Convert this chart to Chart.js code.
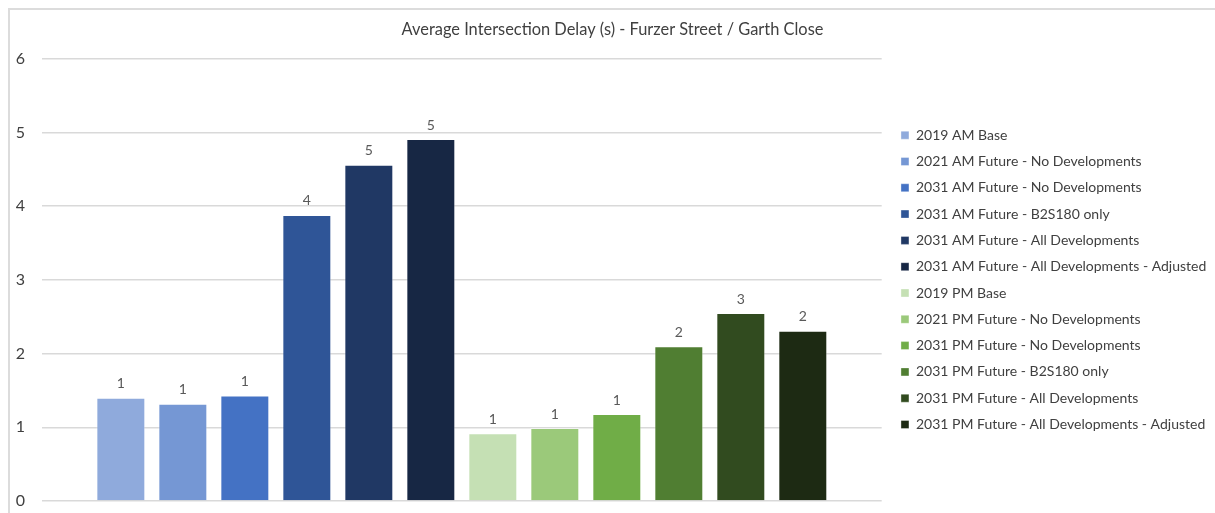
<!DOCTYPE html>
<html>
<head>
<meta charset="utf-8">
<script src="https://cdn.jsdelivr.net/npm/chart.js@4"></script>
<style>
  html, body { margin: 0; padding: 0; background: #fff; }
  #wrap { position: relative; width: 1215px; height: 513px; overflow: hidden; }
  #frame { position: absolute; left: 8px; top: 8px; right: -4px; bottom: -4px;
           border-top: 2px solid #dcdcdc; border-left: 2px solid #dcdcdc; }
  #chart { position: absolute; left: 0; top: 0; }
</style>
</head>
<body>
<div id="wrap">
  <div id="frame"></div>
  <canvas id="chart" width="1215" height="513"></canvas>
</div>
<script>
// scenarios shown as individual bars
const scenarios = [
    '2019 AM Base',
    '2021 AM Future - No Developments',
    '2031 AM Future - No Developments',
    '2031 AM Future - B2S180 only',
    '2031 AM Future - All Developments',
    '2031 AM Future - All Developments - Adjusted',
    '2019 PM Base',
    '2021 PM Future - No Developments',
    '2031 PM Future - No Developments',
    '2031 PM Future - B2S180 only',
    '2031 PM Future - All Developments',
    '2031 PM Future - All Developments - Adjusted'
];

// average delay in seconds
const delays = [1.40, 1.32, 1.43, 3.88, 4.56, 4.91, 0.92, 0.99, 1.18, 2.10, 2.55, 2.31];

const barColors = [
    '#8faadc', '#7597d4', '#4472c4', '#2f5597', '#203864', '#172744',
    '#c5e0b4', '#9bc97a', '#70ad47', '#507e32', '#314b1f', '#1d2a13'
];

const yTicks = [0, 1, 2, 3, 4, 5, 6];

// value labels above each bar, rounded like the source workbook
const barLabels = {
    id: 'barLabels',
    afterDatasetsDraw(chart) {
        const ctx = chart.ctx;
        ctx.save();
        ctx.font = '14px Lato, sans-serif';
        ctx.fillStyle = '#595959';
        ctx.textAlign = 'center';
        ctx.textBaseline = 'middle';
        chart.data.datasets.forEach((ds, i) => {
            const bar = chart.getDatasetMeta(i).data[0];
            ctx.fillText(Math.round(ds.data[0]).toString(), bar.x, bar.y - 14);
        });
        ctx.restore();
    }
};

// leave a little air between the plot and the legend
const legendNudge = {
    id: 'legendNudge',
    afterLayout(chart) {
        if (chart.legend) {
            chart.legend.left += 7;
            chart.legend.right += 7;
        }
    }
};

const ctx = document.getElementById('chart').getContext('2d');
new Chart(ctx, {
    type: 'bar',
    data: {
        labels: [''],
        datasets: scenarios.map((name, i) => ({
            label: name,
            data: [delays[i]],
            backgroundColor: barColors[i],
            borderColor: 'rgba(255,255,255,0.35)',
            borderWidth: 1,
            categoryPercentage: 0.886,
            barPercentage: 0.79
        }))
    },
    options: {
        responsive: false,
        animation: false,
        layout: { padding: { top: 10, left: 15.7, right: 5.7, bottom: 12 } },
        plugins: {
            title: {
                display: true,
                text: 'Average Intersection Delay (s) - Furzer Street / Garth Close',
                color: '#404040',
                font: { family: 'Lato, sans-serif', size: 16.4, weight: 'normal' },
                padding: { top: 10, bottom: 19 }
            },
            legend: {
                position: 'right',
                fullSize: false,
                maxWidth: 360,
                labels: {
                    boxWidth: 8,
                    boxHeight: 8,
                    padding: 12.3,
                    color: '#404040',
                    font: { family: 'Lato, sans-serif', size: 14 }
                }
            },
            tooltip: { enabled: false }
        },
        scales: {
            x: { display: false },
            y: {
                min: 0,
                max: 6,
                afterBuildTicks(axis) { axis.ticks = yTicks.map(v => ({ value: v })); },
                border: { display: false },
                grid: { color: '#d9d9d9', lineWidth: 1.5, tickLength: 17, tickColor: 'rgba(0,0,0,0)' },
                ticks: {
                    padding: 0,
                    color: '#404040',
                    font: { family: 'Lato, sans-serif', size: 16 }
                }
            }
        }
    },
    plugins: [barLabels, legendNudge]
});
</script>
</body>
</html>
